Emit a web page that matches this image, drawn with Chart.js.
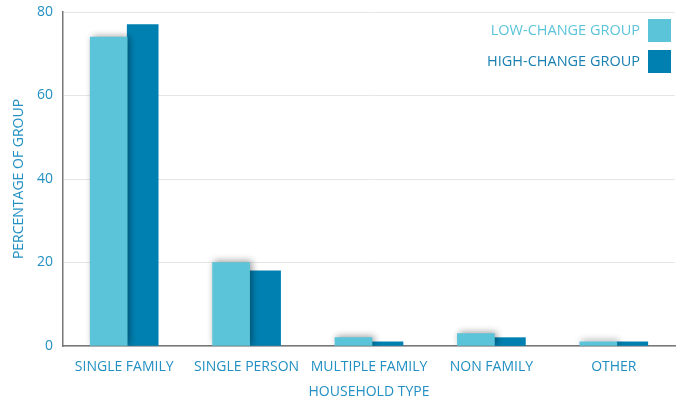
<!DOCTYPE html>
<html>
<head>
<meta charset="utf-8">
<script src="https://cdn.jsdelivr.net/npm/chart.js@4"></script>
<style>
  html, body { margin: 0; padding: 0; background: #fff; }
  #wrap { width: 682px; height: 400px; }
</style>
</head>
<body>
<div id="wrap"><canvas id="chart" width="682" height="400"></canvas></div>
<script>
// Household types on the x axis
const categories = ["SINGLE FAMILY", "SINGLE PERSON", "MULTIPLE FAMILY", "NON FAMILY", "OTHER"];

// Percentage of group
const lowChange = [74, 20, 2, 3, 1];
const highChange = [77, 18, 1, 2, 1];

const yTicks = [0, 20, 40, 60, 80];

const lightBlue = "#5bc4d8";
const darkBlue = "#0080b1";
const textBlue = "#2290c2";
const fontFamily = "'Open Sans', sans-serif";

// Soft shadow under the front (light) bars
const barShadow = {
  id: "barShadow",
  beforeDatasetDraw(chart, args) {
    if (args.index !== 0) return;
    const ctx = chart.ctx;
    ctx.save();
    ctx.shadowColor = "rgba(0,0,0,0.4)";
    ctx.shadowBlur = 7;
    ctx.shadowOffsetX = 2;
    ctx.shadowOffsetY = -1;
  },
  afterDatasetDraw(chart, args) {
    if (args.index !== 0) return;
    chart.ctx.restore();
  },
};

// Pairs sit a little right of the label centre
const nudgeBars = {
  id: "nudgeBars",
  afterDatasetsUpdate(chart) {
    chart.data.datasets.forEach((ds, i) => {
      chart.getDatasetMeta(i).data.forEach((bar) => { bar.x += 3; });
    });
  },
};

// Legend in the top right: text first, colour box after it
const sideLegend = {
  id: "sideLegend",
  afterDraw(chart) {
    const ctx = chart.ctx;
    const rows = [
      { label: chart.data.datasets[0].label, color: lightBlue, text: lightBlue, y: 19 },
      { label: chart.data.datasets[1].label, color: darkBlue, text: "#1a80b2", y: 50 },
    ];
    ctx.save();
    ctx.font = "14.5px " + fontFamily;
    ctx.textAlign = "right";
    ctx.textBaseline = "middle";
    rows.forEach((r) => {
      ctx.fillStyle = r.color;
      ctx.fillRect(648, r.y, 23, 23);
      ctx.fillStyle = r.text;
      ctx.fillText(r.label, 640, r.y + 12);
    });
    ctx.restore();
  },
};

new Chart(document.getElementById("chart"), {
  type: "bar",
  plugins: [barShadow, nudgeBars, sideLegend],
  data: {
    labels: categories,
    datasets: [
      { label: "LOW-CHANGE GROUP", data: lowChange, backgroundColor: lightBlue, barThickness: 37 },
      { label: "HIGH-CHANGE GROUP", data: highChange, backgroundColor: darkBlue, barThickness: 31 },
    ],
  },
  options: {
    responsive: false,
    animation: false,
    layout: { padding: { top: 12, right: 7, left: 0, bottom: 0 } },
    plugins: {
      legend: { display: false },
      tooltip: { enabled: false },
    },
    scales: {
      x: {
        grid: { display: false },
        border: { color: "#777", width: 1.5 },
        ticks: { color: textBlue, font: { family: fontFamily, size: 14 }, padding: 5, maxRotation: 0 },
        title: {
          display: true,
          text: "HOUSEHOLD TYPE",
          color: textBlue,
          font: { family: fontFamily, size: 14 },
          padding: { top: 4, bottom: 0 },
        },
        afterFit(scale) {
          scale.height = 54;
          scale.paddingLeft = 0;
          scale.paddingRight = 0;
        },
      },
      y: {
        min: 0,
        max: 80,
        afterBuildTicks(scale) { scale.ticks = yTicks.map((v) => ({ value: v })); },
        grid: { color: "#e6e6e6", drawTicks: false },
        border: { color: "#777", width: 1.5 },
        ticks: { color: textBlue, font: { family: fontFamily, size: 14 }, padding: 10 },
        title: {
          display: true,
          text: "PERCENTAGE OF GROUP",
          color: textBlue,
          font: { family: fontFamily, size: 14 },
          padding: { top: 11, bottom: 0 },
        },
        afterFit(scale) {
          scale.width = 63;
          scale.paddingTop = 0;
          scale.paddingBottom = 0;
        },
      },
    },
  },
});
</script>
</body>
</html>
